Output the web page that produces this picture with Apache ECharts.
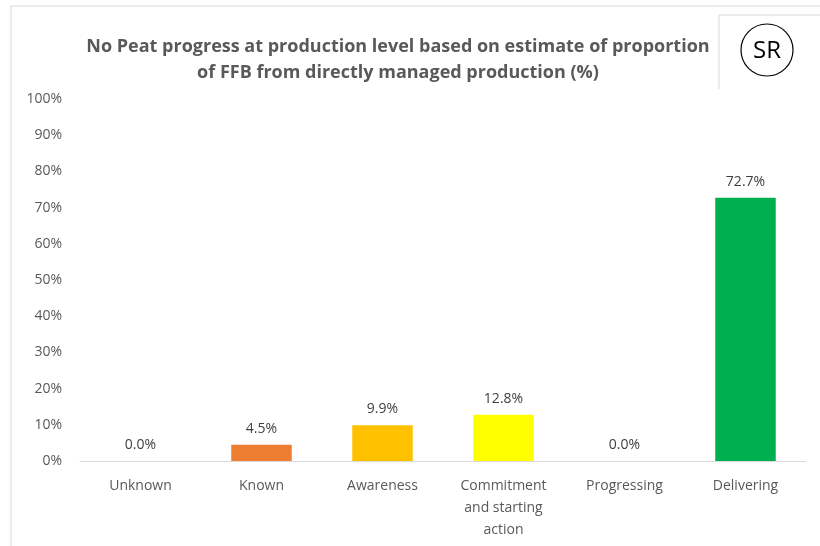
<!DOCTYPE html>
<html>
<head>
<meta charset="utf-8">
<script src="https://cdn.jsdelivr.net/npm/echarts@6/dist/echarts.min.js"></script>
<style>
  html, body { margin: 0; padding: 0; background: #fff; }
  #mainChart { width: 820px; height: 546px; }
</style>
</head>
<body>
<div id="mainChart"></div>
<script>
// 数据
var categories = ['Unknown', 'Known', 'Awareness', 'Commitment\nand starting\naction', 'Progressing', 'Delivering'];
var values = [0.0, 4.5, 9.9, 12.8, 0.0, 72.7];
var barColors = ['#a5a5a5', '#ed7d31', '#ffc000', '#ffff00', '#5b9bd5', '#00b050'];
var yTicks = [0, 10, 20, 30, 40, 50, 60, 70, 80, 90, 100];

var myChart = echarts.init(document.getElementById('mainChart'));
var font = '"Open Sans", "DejaVu Sans", sans-serif';

var seriesData = values.map(function (v, i) {
    return { value: v, itemStyle: { color: barColors[i] } };
});

myChart.setOption({
    animation: false,
    title: {
        text: 'No Peat progress at production level based on estimate of proportion\nof FFB from directly managed production (%)',
        left: 393,
        top: 29,
        textAlign: 'center',
        textStyle: {
            fontFamily: font,
            fontSize: 18,
            fontWeight: 'bold',
            color: '#595959',
            lineHeight: 26
        }
    },
    graphic: [
        // outer frame
        { type: 'line', shape: { x1: 11, y1: 6, x2: 820, y2: 6 }, style: { stroke: '#d9d9d9', lineWidth: 1 } },
        { type: 'line', shape: { x1: 11, y1: 6, x2: 11, y2: 546 }, style: { stroke: '#d9d9d9', lineWidth: 1 } },
        // SR box
        { type: 'line', shape: { x1: 719, y1: 15, x2: 820, y2: 15 }, style: { stroke: '#d9d9d9', lineWidth: 1 } },
        { type: 'line', shape: { x1: 719, y1: 15, x2: 719, y2: 89 }, style: { stroke: '#d9d9d9', lineWidth: 1 } },
        { type: 'circle', shape: { cx: 767, cy: 50, r: 26 }, style: { fill: '#fff', stroke: '#000', lineWidth: 1.2 } },
        {
            type: 'text', x: 767, y: 51,
            style: { text: 'SR', fill: '#000', font: '24px "Open Sans", sans-serif', align: 'center', verticalAlign: 'middle' }
        }
    ],
    grid: { left: 80, right: 14, top: 99, bottom: 85 },
    xAxis: {
        type: 'category',
        data: categories,
        axisLine: { lineStyle: { color: '#d9d9d9' } },
        axisTick: { show: false },
        axisLabel: {
            color: '#595959', fontSize: 14, fontFamily: font, margin: 14, lineHeight: 22, interval: 0
        }
    },
    yAxis: {
        type: 'value',
        min: yTicks[0],
        max: yTicks[yTicks.length - 1],
        interval: 10,
        splitLine: { show: false },
        axisLine: { show: false },
        axisTick: { show: false },
        axisLabel: {
            color: '#595959', fontSize: 14, fontFamily: font, margin: 18,
            formatter: '{value}%'
        }
    },
    series: [{
        type: 'bar',
        data: seriesData,
        barWidth: '50%',
        label: {
            show: true,
            position: 'top',
            distance: 9,
            color: '#404040',
            fontSize: 14,
            fontFamily: font,
            formatter: function (p) { return p.value.toFixed(1) + '%'; }
        }
    }]
});
</script>
</body>
</html>
